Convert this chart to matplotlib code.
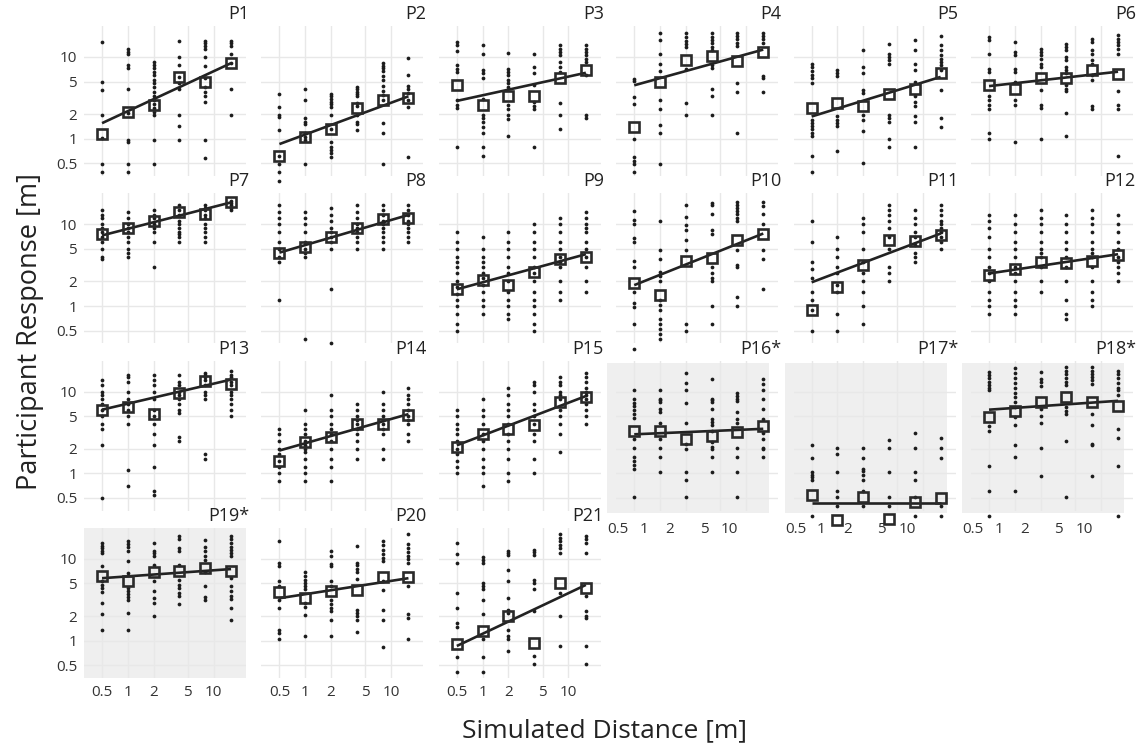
import matplotlib
matplotlib.use("Agg")
import matplotlib.pyplot as plt
from matplotlib.patches import Rectangle
from matplotlib.transforms import ScaledTranslation

plt.rcParams['font.family'] = ['Open Sans', 'DejaVu Sans']

distances = [0.5, 1, 2, 4, 8, 16]
tick_values = [0.5, 1, 2, 5, 10]
tick_labels = ["0.5", "1", "2", "5", "10"]
panel_names = ["P1", "P2", "P3", "P4", "P5", "P6", "P7", "P8", "P9", "P10", "P11", "P12",
               "P13", "P14", "P15", "P16*", "P17*", "P18*", "P19*", "P20", "P21"]
highlighted = ["P16*", "P17*", "P18*", "P19*"]

# ---- responses per simulated distance (one list per distance) ----
p1_resp = [[15.3, 4.9, 3.95, 1.95, 1.02, 0.49, 0.39],
           [12.5, 11.5, 11, 8, 7.3, 4, 2.05, 0.96, 0.9, 0.49, 0.39],
           [8.7, 8, 7.3, 6.5, 6, 5.2, 4.8, 4.3, 3.7, 3.3, 3.0, 2.65, 2.4, 2.1, 1.95, 0.96, 0.49],
           [15.7, 10, 8, 5.7, 4.8, 4, 1.95, 1.43, 0.96],
           [15.7, 14.8, 13.6, 12.5, 10, 7.8, 5.5, 4.3, 3.7, 3.3, 2.8, 0.96, 0.58],
           [15.7, 14.8, 13.6, 11, 8.4, 4, 1.95]]
p1_mean = [1.14, 2.1, 2.6, 5.7, 4.9, 8.4]
p1_fit = [1.55, 8.4]

p2_resp = [[3.5, 2.45, 1.95, 1.85, 1.28, 0.62, 0.49, 0.39, 0.3],
           [4, 3.0, 1.8, 1.6, 1.5, 1.17, 1.05, 0.96, 0.49],
           [3.5, 3.3, 3.05, 2.8, 2.65, 2.45, 1.95, 1.33, 0.9, 0.8, 0.73, 0.67, 0.6],
           [4.3, 4.1, 3.7, 3.5, 3.3, 2.75, 2.5, 1.95, 1.6, 1.5, 1.28],
           [8.4, 7.8, 7.3, 6.7, 5.9, 5.2, 4.4, 3.8, 3.4, 3.0, 1.55, 1.17, 0.49],
           [9.7, 6.0, 4.4, 4.1, 3.6, 3.0, 2.45, 0.6]]
p2_mean = [0.62, 1.05, 1.3, 2.4, 3.0, 3.15]
p2_fit = [0.86, 3.3]

p3_resp = [[15.2, 13.9, 11.8, 7.9, 7.2, 6.6, 3.0, 2.6, 2.4, 0.8],
           [13.9, 11, 6.9, 6.3, 5.6, 3.1, 1.96, 1.8, 1.6, 1.4, 1.17, 0.8, 0.61],
           [11.3, 7.2, 6.6, 6.0, 5.2, 4.8, 4.3, 2.6, 2.3, 1.96, 1.75, 1.07],
           [11, 7.6, 6.3, 4.5, 2.85, 2.5, 2.3, 0.8],
           [13.9, 12.6, 11.5, 10.5, 8.7, 7.6, 6.6, 2.7, 1.96, 1.3],
           [13.9, 12.6, 11.5, 10.5, 9.5, 8.7, 6.0, 1.96, 1.8]]
p3_mean = [4.5, 2.6, 3.3, 3.3, 5.5, 6.9]
p3_fit = [2.9, 6.4]

p4_resp = [[5.3, 5.1, 3.2, 2.65, 0.98, 0.6, 0.53, 0.49, 0.39],
           [19.5, 16.2, 11, 8.2, 6.7, 3.0, 2.3, 1.48, 1.17, 0.49],
           [19.5, 17.5, 15.7, 14.4, 13.2, 7.1, 2.75, 1.95],
           [19.5, 17.5, 16.2, 14.8, 13.2, 12.2, 8, 7.3, 4, 3.3, 1.95],
           [19.5, 18, 16.6, 14.8, 13.6, 4.8, 3.7, 1.17],
           [19.5, 18, 16.6, 14.8, 5.9, 5.5, 3.7]]
p4_mean = [1.4, 5.0, 9.2, 10.3, 8.9, 11.5]
p4_fit = [4.5, 12.3]

p5_resp = [[8.3, 7.6, 6.8, 6.0, 5.5, 4.75, 1.7, 1.55, 1.42, 1.3, 1.18, 1.07, 0.61, 0.39],
           [7.0, 6.4, 5.8, 1.87, 1.7, 1.55, 1.45, 0.7],
           [12, 7.6, 6.3, 3.9, 3.6, 1.96, 1.7, 1.23, 0.5],
           [14.2, 11, 10, 9.1, 8.3, 1.96, 1.8, 1.6, 1.0, 0.8],
           [15.9, 12, 8.3, 6.9, 5, 3.3, 2.85, 2.5, 1.87, 1.6, 0.8],
           [17.8, 13.9, 12, 10.5, 9.5, 8.7, 7.9, 6.9, 3.9, 1.8, 1.4]]
p5_mean = [2.37, 2.7, 2.5, 3.5, 4.1, 6.3]
p5_fit = [1.87, 5.7]

p6_resp = [[17.5, 15.9, 11, 7.2, 6.6, 3.3, 3.0, 2.6, 2.3, 1.17, 1.0],
           [15.2, 11.5, 10.5, 7.2, 6.6, 5.0, 3.0, 2.6, 0.9],
           [12.6, 11.5, 10.5, 9.5, 8.3, 7.6, 3.9, 2.6, 2.4, 1.0],
           [14.5, 13.2, 12, 10, 9.1, 7.6, 6.9, 6.3, 4.5, 4.1, 3.8, 2.05, 1.07],
           [16.7, 15.2, 12, 11, 9.1, 8.3, 6.0, 5.2, 2.5, 2.3],
           [18.3, 16.7, 15.2, 13.9, 12.6, 11, 3.8, 2.6, 2.3, 0.61]]
p6_mean = [4.5, 4.1, 5.5, 5.5, 7.0, 6.1]
p6_fit = [4.4, 6.6]

p7_resp = [[15, 13, 12, 10, 9, 8, 7, 6, 5, 4, 3.8],
           [14, 12, 10, 9, 8, 7, 6, 5, 4.5, 4],
           [15, 13, 12, 10, 9, 8, 6, 3],
           [17, 15, 13, 11, 10, 9, 8, 7.5, 7, 6],
           [17, 16, 15, 13, 12, 10, 9, 8, 7, 6],
           [19, 18, 17, 16, 15]]
p7_mean = [7.6, 9.0, 11, 14, 13.5, 18.5]
p7_fit = [7.3, 18.5]

p8_resp = [[17, 14, 12, 10, 8, 6, 5, 4, 3.5, 1.2],
           [14, 12, 10, 8, 6, 5, 4.5, 4, 0.4],
           [16, 13, 11, 9, 8, 7, 6, 5, 1.6, 0.35],
           [17, 14, 12, 10, 9, 8, 7, 6, 5],
           [17, 15, 13, 11, 10, 9, 8, 7, 6, 5],
           [17, 15, 13, 11, 10, 9, 8, 7, 6]]
p8_mean = [4.5, 5.2, 7.0, 9.0, 11.5, 12.0]
p8_fit = [4.5, 13.0]

p9_resp = [[8, 6, 5, 4, 3.5, 3, 2.5, 2, 1.7, 1.4, 1.2, 1, 0.8, 0.6, 0.5],
           [7, 5, 4, 3.5, 3, 2.5, 2.2, 1.8, 1.5, 1.2, 1, 0.8],
           [8, 6, 5, 4, 3, 2.5, 2, 1.5, 1.2, 1, 0.8, 0.7],
           [10, 8, 6, 5, 4, 3, 2.5, 2, 1.5, 1.2, 1, 0.8, 0.6, 0.5],
           [12, 10, 8, 6, 5, 4, 3.5, 3, 2, 1.5, 1.2],
           [14, 12, 10, 9, 8, 6, 5, 4, 3, 2, 1.5]]
p9_mean = [1.6, 2.1, 1.8, 2.6, 3.8, 4.0]
p9_fit = [1.6, 4.3]

p10_resp = [[14.5, 11.4, 10.2, 6.7, 6.1, 3.6, 3.0, 1.5, 1.1, 0.97, 0.6, 0.3],
            [11, 4.8, 3.8, 2.6, 2.3, 2.0, 1.17, 1.02, 0.9, 0.7, 0.61, 0.53, 0.46, 0.4],
            [17, 12.3, 9.7, 8.4, 6.5, 4.9, 0.6, 0.5],
            [18.4, 17, 13.5, 8.6, 7.7, 3.0, 2.5, 2.2, 2.0, 1.0, 0.6],
            [18.8, 17, 15.6, 14.4, 13.2, 12, 11, 4.8, 3.15, 3.0, 1.3, 1.0],
            [18.8, 16.6, 13.5, 10.2, 4.8, 3.8, 1.6]]
p10_mean = [1.9, 1.38, 3.6, 3.9, 6.5, 7.5]
p10_fit = [1.8, 7.7]

p11_resp = [[11, 6, 3.5, 2.8, 2.2, 1.5, 1.2, 0.9, 0.5],
            [7, 5, 4, 3, 2.5, 1.8, 1.5, 0.8, 0.5],
            [12, 10, 8, 5, 3.5, 2.5, 2, 1.5, 1, 0.6],
            [17, 15, 13, 11, 9, 7, 5, 3, 2.5, 2],
            [15, 12, 10, 8, 7, 5.5, 4.5, 4, 3.5],
            [17, 15, 13, 11, 10, 9, 8, 7, 6, 5]]
p11_mean = [0.9, 1.7, 3.2, 6.5, 6.2, 7.3]
p11_fit = [1.95, 7.7]

p12_resp = [[13, 11, 9, 7, 5, 4, 3, 2.5, 2, 1.5, 1.2, 1, 0.8],
            [13, 10, 8, 6, 5, 4, 3, 2.5, 2, 1.5, 1.2, 1, 0.8],
            [15, 12, 10, 8, 6, 5, 4.5, 4, 3, 2, 1.5],
            [13, 10, 8, 6, 5, 4, 3, 2, 1.2, 0.8, 0.7],
            [15, 12, 10, 8, 6, 5, 4.5, 4, 3, 2, 1.5, 1.2, 1],
            [13, 10, 8, 6, 5, 4, 3.5, 3, 2.5, 2]]
p12_mean = [2.4, 2.8, 3.5, 3.4, 3.6, 4.2]
p12_fit = [2.5, 4.3]

p13_resp = [[14, 12, 10, 9, 8, 7, 6, 5, 4, 3.5, 2.2, 0.5],
            [16, 15, 13, 10, 8, 7, 6, 5, 4, 1.1, 0.7],
            [16, 14, 12, 10, 8, 6, 5, 4, 3, 2.2, 1.2, 0.6, 0.55],
            [16, 13, 12, 10, 9, 8, 7, 6, 5.5, 2.8, 2.5],
            [17, 16, 15, 14, 12, 10, 9, 8, 1.7, 1.5],
            [18, 16, 15, 13, 12, 10, 9, 8, 7, 6, 5]]
p13_mean = [6.0, 6.5, 5.3, 9.5, 13.5, 12.5]
p13_fit = [6.0, 14.0]

p14_resp = [[3.5, 3, 2.5, 2, 1.7, 1.4, 1.2, 1.0, 0.8],
            [6, 4, 3.5, 3, 2.5, 2.2, 2, 1.8, 1.5, 1.2, 1, 0.8],
            [9, 6, 5, 4, 3.5, 3, 2.5, 2, 1.5, 1.2, 0.8],
            [7, 6, 5, 4.5, 4, 3.5, 3, 2.5, 2, 1.5],
            [10, 7, 6, 5, 4.5, 4, 3.5, 3, 2, 1.5],
            [11, 9, 8, 7, 6, 5, 4.5, 4, 3, 2.5]]
p14_mean = [1.43, 2.4, 2.8, 4.0, 4.0, 5.2]
p14_fit = [1.9, 5.3]

p15_resp = [[6, 5, 4, 3.5, 3, 2.5, 2, 1.7, 1.4, 1.2, 1],
            [8, 6, 5, 4, 3, 2.5, 2, 1.5, 1.2, 1, 0.7],
            [11, 9, 7, 6, 5, 4, 3, 2.5, 2, 1.5, 1, 0.8],
            [13, 12, 10, 7, 6, 5, 4, 3, 2.5, 1.5, 1],
            [15, 13, 12, 10, 9, 8, 6, 5, 4, 3, 1.8],
            [17, 15, 13, 11, 10, 9, 8, 7, 6, 5, 4]]
p15_mean = [2.1, 3.0, 3.5, 3.9, 7.5, 8.5]
p15_fit = [2.2, 8.8]

p16_resp = [[10.3, 8.2, 7.3, 6.7, 6.0, 5.3, 4.7, 2.64, 2.06, 1.57, 1.43, 1.27, 1.13, 0.51],
            [10.3, 8.2, 7.9, 7.5, 6.1, 5.6, 4.1, 2.64, 2.06, 1.57, 1.03],
            [16.7, 12.6, 10.3, 7.2, 4.1, 2.3, 2.0, 1.03, 0.82, 0.51],
            [14.3, 8.2, 7.9, 7.5, 6.1, 4.6, 4.3, 3.9, 3.3, 2.4, 2.1, 2.0, 1.57, 1.03],
            [9.5, 8.8, 8.2, 7.7, 5.7, 4.6, 4.1, 2.06, 1.57, 1.03, 0.51],
            [14.3, 12.4, 10.3, 8.2, 6.1, 4.6, 3.1, 2.64, 2.06, 2.0, 1.57]]
p16_mean = [3.33, 3.33, 2.6, 2.9, 3.2, 3.8]
p16_fit = [3.0, 3.5]

p17_resp = [[2.2, 1.54, 1.03, 0.96, 0.89, 0.82, 0.3],
            [2.06, 1.72, 1.03, 0.61, 0.51, 0.4],
            [2.06, 1.54, 1.12, 1.07, 0.96, 0.82, 0.61, 0.4],
            [2.56, 2.06, 1.03, 0.51, 0.4],
            [3.15, 2.06, 1.03, 0.82, 0.51, 0.3],
            [2.7, 2.06, 1.54, 0.4, 0.3]]
p17_mean = [0.55, 0.27, 0.51, 0.28, 0.44, 0.5]
p17_fit = [0.43, 0.43]

p18_resp = [[17.2, 16, 14.5, 13.2, 12, 10.9, 10.3, 3.8, 3.33, 1.24, 0.61, 0.3],
            [19.3, 16.7, 14.5, 12.6, 10.9, 9.7, 8.5, 7.5, 6.5, 4.85, 3.9, 2.2, 1.6, 0.61],
            [17.2, 14.1, 12.9, 11.7, 6.2, 5.0, 4.1, 2.06, 0.93],
            [19.8, 18, 16.3, 14.5, 13.2, 12, 6.5, 5.8, 5.3, 2.5, 0.51],
            [19.8, 18, 16.3, 15, 13.7, 12.4, 5.3, 3.9, 2.3, 2.2, 0.93],
            [18, 16.3, 14.5, 12.6, 10.9, 10.3, 9.2, 3.5, 2.7, 1.24, 0.3]]
p18_mean = [4.85, 5.8, 7.5, 8.5, 7.4, 6.7]
p18_fit = [6.0, 7.7]

p19_resp = [[15.6, 14.4, 13.5, 12.6, 11.7, 8.1, 5.3, 4.8, 4.4, 3.9, 2.9, 2.1, 1.36],
            [16.3, 15.1, 14.1, 12.6, 9.3, 6.7, 4.4, 4.0, 3.7, 3.4, 3.1, 2.2, 1.36],
            [15.6, 12.6, 11.7, 10.8, 8.45, 5.3, 4.1, 3.3, 2.9, 2.0],
            [19.1, 17.5, 13.5, 12.6, 8.45, 5.5, 4.8, 4.4, 3.8, 3.5, 2.8],
            [17.0, 14.1, 12.3, 10.7, 9.7, 7.0, 4.6, 3.4, 3.1],
            [19.1, 17.5, 15.6, 14.1, 13.0, 11.7, 10.7, 5.8, 4.7, 4.1, 3.5, 3.2, 2.5, 1.8]]
p19_mean = [6.1, 5.3, 6.9, 7.2, 7.7, 7.2]
p19_fit = [5.8, 7.5]

p20_resp = [[16.3, 9.0, 8.1, 5.3, 4.7, 3.15, 2.5, 1.36, 1.24, 1.05],
            [7.0, 6.1, 5.5, 5.1, 4.7, 4.3, 2.9, 2.6, 2.06, 1.14],
            [12.6, 10.9, 8.7, 8.1, 5.3, 4.7, 3.15, 2.8, 2.5, 2.3, 1.8, 1.14],
            [14.4, 9.0, 8.3, 7.6, 6.9, 5.6, 2.4, 2.2, 2.0, 1.8, 1.26],
            [16.7, 14.7, 13.0, 11.5, 10.3, 9.3, 5.3, 4.2, 2.4, 1.8, 0.83],
            [20.2, 15.2, 13.5, 12.0, 10.9, 9.9, 9.0, 4.7, 2.1, 1.9, 1.05]]
p20_mean = [3.9, 3.3, 4.1, 4.2, 6.0, 6.0]
p20_fit = [3.3, 5.8]

p21_resp = [[15.6, 11.5, 9.0, 3.8, 2.5, 1.66, 1.46, 0.63, 0.41],
            [10.5, 9.7, 9.0, 5.1, 4.7, 4.3, 3.1, 2.1, 1.05, 0.63, 0.41],
            [12.3, 11.7, 11.2, 7.3, 5.3, 3.3, 2.4, 2.2, 1.36, 1.14, 1.05, 0.74],
            [12.8, 12.0, 11.2, 5.5, 5.1, 4.3, 2.3, 0.64, 0.52],
            [20.2, 17.9, 16.3, 14.8, 13.5, 11.7, 3.8, 2.0, 0.85],
            [18.8, 17.4, 15.8, 11.9, 3.5, 2.3, 2.0, 1.9, 0.85, 0.52]]
p21_mean = [0.9, 1.3, 2.0, 0.93, 5.1, 4.4]
p21_fit = [0.86, 4.8]

all_resp = [p1_resp, p2_resp, p3_resp, p4_resp, p5_resp, p6_resp, p7_resp, p8_resp,
            p9_resp, p10_resp, p11_resp, p12_resp, p13_resp, p14_resp, p15_resp,
            p16_resp, p17_resp, p18_resp, p19_resp, p20_resp, p21_resp]
all_mean = [p1_mean, p2_mean, p3_mean, p4_mean, p5_mean, p6_mean, p7_mean, p8_mean,
            p9_mean, p10_mean, p11_mean, p12_mean, p13_mean, p14_mean, p15_mean,
            p16_mean, p17_mean, p18_mean, p19_mean, p20_mean, p21_mean]
all_fit = [p1_fit, p2_fit, p3_fit, p4_fit, p5_fit, p6_fit, p7_fit, p8_fit,
           p9_fit, p10_fit, p11_fit, p12_fit, p13_fit, p14_fit, p15_fit,
           p16_fit, p17_fit, p18_fit, p19_fit, p20_fit, p21_fit]

# ---- layout ----
W, H = 1145, 744
DPI = 100
fig = plt.figure(figsize=(W / DPI, H / DPI), dpi=DPI)
fig.patch.set_facecolor('white')

n_cols = 6
col_step = 177.4
row_step = 167.3
panel_w = 162
panel_h = 150
first_left = 84
first_top = 26

grid_col = '#e8e8e8'
gray_bg = '#efefef'
dot_col = '#1c1c1c'
line_col = '#222222'

for i, name in enumerate(panel_names):
    r, c = divmod(i, n_cols)
    left = first_left + col_step * c
    top = first_top + row_step * r
    ax = fig.add_axes([left / W, 1 - (top + panel_h) / H, panel_w / W, panel_h / H])
    ax.set_xscale('log')
    ax.set_yscale('log')
    ax.set_xlim(0.308, 23.9)
    ax.set_ylim(0.35, 23.9)
    ax.set_facecolor('none')
    for s in ax.spines.values():
        s.set_visible(False)
    ax.set_axisbelow(True)
    ax.grid(True, which='major', color=grid_col, lw=1.0)
    ax.minorticks_off()
    ax.set_xticks(tick_values)
    ax.set_yticks(tick_values)
    ax.tick_params(length=0, labelsize=11, colors='#333333', pad=5)

    if name in highlighted:
        if r == 2:
            off = ScaledTranslation(-9 / DPI, -2 / DPI, fig.dpi_scale_trans)
        else:
            off = ScaledTranslation(0, 0, fig.dpi_scale_trans)
        rect = Rectangle((0, 0), 1, 1, transform=ax.transAxes + off,
                         facecolor=gray_bg, edgecolor='none', zorder=-5, clip_on=False)
        ax.add_patch(rect)

    show_x = (r == 3) or (r == 2 and c >= 3)
    if show_x:
        ax.set_xticklabels(tick_labels)
        if r == 2:
            sh = ScaledTranslation(-16 / DPI, -4 / DPI, fig.dpi_scale_trans)
            for lab in ax.get_xticklabels():
                lab.set_transform(lab.get_transform() + sh)
    else:
        ax.set_xticklabels([])
    if c == 0:
        ax.set_yticklabels(tick_labels)
    else:
        ax.set_yticklabels([])

    resp = all_resp[i]
    for d, vals in zip(distances, resp):
        ax.plot([d] * len(vals), vals, 'o', ms=2.7, color=dot_col, mew=0,
                clip_on=False, zorder=3)
    ax.plot([distances[0], distances[-1]], all_fit[i], color=line_col, lw=1.9,
            clip_on=False, zorder=4, solid_capstyle='butt')
    ax.plot(distances, all_mean[i], 's', ms=7.3, mfc='none', mec='#2a2a2a', mew=1.9,
            clip_on=False, zorder=5)

    ax.text(1.0, 1.0, name, transform=ax.transAxes + ScaledTranslation(3 / DPI, 3 / DPI, fig.dpi_scale_trans),
            ha='right', va='bottom', fontsize=13, color='#222222')

fig.text(30 / W, 1 - 332 / H, "Participant Response [m]", rotation=90,
         ha='center', va='center', fontsize=19.5, color='#222222')
fig.text(605 / W, 1 - 731 / H, "Simulated Distance [m]",
         ha='center', va='center', fontsize=19, color='#222222')

fig.savefig("out.png", dpi=DPI, facecolor='white')
